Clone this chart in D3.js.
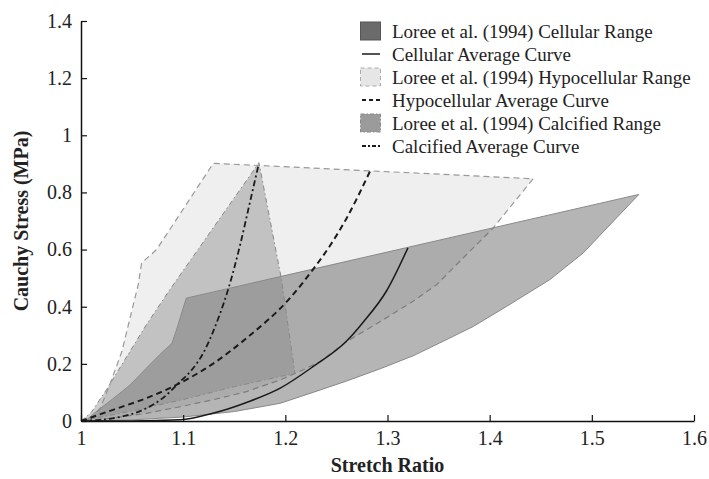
<!DOCTYPE html>
<html><head><meta charset="utf-8">
<script src="https://cdn.jsdelivr.net/npm/d3@7"></script>
<style>body{margin:0;background:#fff}svg{display:block}</style>
</head><body><svg id="chart" width="709" height="479"></svg>
<script>
// ---- data ----
const xTicks = [1, 1.1, 1.2, 1.3, 1.4, 1.5, 1.6];
const xTickLabels = ["1", "1.1", "1.2", "1.3", "1.4", "1.5", "1.6"];
const yTicks = [0, 0.2, 0.4, 0.6, 0.8, 1.0, 1.2, 1.4];
const yTickLabels = ["0", "0.2", "0.4", "0.6", "0.8", "1", "1.2", "1.4"];

const seriesNames = [
  "Loree et al. (1994) Cellular Range",
  "Cellular Average Curve",
  "Loree et al. (1994) Hypocellular Range",
  "Hypocellular Average Curve",
  "Loree et al. (1994) Calcified Range",
  "Calcified Average Curve"
];

// Range boundaries (closed polygons)
const cellularRangeX = [1.0, 1.0055, 1.015, 1.032, 1.048, 1.064, 1.077, 1.089, 1.094, 1.097, 1.103, 1.546, 1.4915, 1.459, 1.4165, 1.384, 1.351, 1.325, 1.293, 1.26, 1.227, 1.195, 1.15, 1.1, 1.05, 1.0];
const cellularRangeY = [0.0, 0.004, 0.033, 0.08, 0.126, 0.185, 0.232, 0.272, 0.325, 0.36, 0.43, 0.793, 0.588, 0.495, 0.401, 0.331, 0.273, 0.228, 0.183, 0.14, 0.10, 0.062, 0.033, 0.014, 0.004, 0.0];

const hypoRangeX = [1.0, 1.009, 1.019, 1.028, 1.04, 1.048, 1.056, 1.0593, 1.074, 1.1295, 1.4426, 1.4035, 1.375, 1.348, 1.325, 1.293, 1.26, 1.234, 1.214, 1.195, 1.162, 1.129, 1.097, 1.064, 1.031, 1.0];
const hypoRangeY = [0.0, 0.004, 0.045, 0.126, 0.243, 0.361, 0.477, 0.553, 0.60, 0.902, 0.848, 0.676, 0.574, 0.477, 0.419, 0.348, 0.278, 0.208, 0.173, 0.144, 0.103, 0.074, 0.05, 0.027, 0.01, 0.0];

const calcRangeX = [1.0, 1.01, 1.025, 1.043, 1.064, 1.087, 1.1742, 1.196, 1.2094, 1.15, 1.1, 1.05, 1.0];
const calcRangeY = [0.0, 0.03, 0.11, 0.215, 0.337, 0.46, 0.904, 0.50, 0.167, 0.12, 0.075, 0.035, 0.0];

// Average curves
const cellularAvgX = [1.0, 1.05, 1.097, 1.129, 1.162, 1.195, 1.227, 1.26, 1.276, 1.299, 1.32];
const cellularAvgY = [0.0, 0.0, 0.004, 0.027, 0.065, 0.115, 0.19, 0.28, 0.345, 0.455, 0.606];

const hypoAvgX = [1.0, 1.032, 1.064, 1.097, 1.129, 1.162, 1.2045, 1.227, 1.244, 1.26, 1.283];
const hypoAvgY = [0.0, 0.04, 0.08, 0.133, 0.2, 0.29, 0.43, 0.53, 0.615, 0.71, 0.875];

const calcAvgX = [1.0, 1.032, 1.064, 1.08, 1.097, 1.107, 1.12, 1.129, 1.136, 1.144, 1.156, 1.165, 1.174];
const calcAvgY = [0.0, 0.01, 0.045, 0.08, 0.138, 0.173, 0.24, 0.31, 0.375, 0.46, 0.62, 0.76, 0.90];

// ---- chart ----
const svg = d3.select("#chart");
const x = d3.scaleLinear().domain([1, 1.6]).range([81, 694]);
const y = d3.scaleLinear().domain([0, 1.4]).range([421, 21]);
const serif = "'Liberation Serif', 'Times New Roman', serif";

const zip = (xs, ys) => xs.map((v, i) => [v, ys[i]]);
const poly = d3.line().x(d => x(d[0])).y(d => y(d[1])).curve(d3.curveLinearClosed);
const smooth = d3.line().x(d => x(d[0])).y(d => y(d[1])).curve(d3.curveMonotoneX);

const plot = svg.append("g");

// Hypocellular range
plot.append("path").attr("d", poly(zip(hypoRangeX, hypoRangeY)))
  .attr("fill", "#dcdcdc").attr("fill-opacity", 0.45)
  .attr("stroke", "#999").attr("stroke-width", 1.2).attr("stroke-dasharray", "6,4");
// Cellular range
plot.append("path").attr("d", poly(zip(cellularRangeX, cellularRangeY)))
  .attr("fill", "#5a5a5a").attr("fill-opacity", 0.45)
  .attr("stroke", "#888").attr("stroke-width", 1);
// Calcified range
plot.append("path").attr("d", poly(zip(calcRangeX, calcRangeY)))
  .attr("fill", "#8c8c8c").attr("fill-opacity", 0.45)
  .attr("stroke", "#888").attr("stroke-width", 1).attr("stroke-dasharray", "5,3,1.5,3");

// Average curves
plot.append("path").attr("d", smooth(zip(cellularAvgX, cellularAvgY)))
  .attr("fill", "none").attr("stroke", "#1a1a1a").attr("stroke-width", 1.5);
plot.append("path").attr("d", smooth(zip(hypoAvgX, hypoAvgY)))
  .attr("fill", "none").attr("stroke", "#1a1a1a").attr("stroke-width", 2).attr("stroke-dasharray", "6,4");
plot.append("path").attr("d", smooth(zip(calcAvgX, calcAvgY)))
  .attr("fill", "none").attr("stroke", "#1a1a1a").attr("stroke-width", 1.8).attr("stroke-dasharray", "6,3,2,3");

// Axes
const xAxis = d3.axisBottom(x).tickValues(xTicks)
  .tickFormat((d, i) => xTickLabels[i]).tickSizeInner(-6).tickSizeOuter(0).tickPadding(10);
const yAxis = d3.axisLeft(y).tickValues(yTicks)
  .tickFormat((d, i) => yTickLabels[i]).tickSizeInner(-6).tickSizeOuter(0).tickPadding(9);

const gx = svg.append("g").attr("transform", "translate(0,421)").call(xAxis);
const gy = svg.append("g").attr("transform", "translate(81,0)").call(yAxis);
[gx, gy].forEach(g => {
  g.select(".domain").attr("stroke", "#111").attr("stroke-width", 1.5);
  g.selectAll(".tick line").attr("stroke", "#111").attr("stroke-width", 1.2);
  g.selectAll(".tick text").attr("font-family", serif).attr("font-size", 20).attr("fill", "#222");
});

// Axis titles
svg.append("text").attr("x", 387.5).attr("y", 472).attr("text-anchor", "middle")
  .attr("font-family", serif).attr("font-size", 20).attr("font-weight", "bold").attr("fill", "#222")
  .text("Stretch Ratio");
svg.append("text").attr("transform", "translate(28,221) rotate(-90)").attr("text-anchor", "middle")
  .attr("font-family", serif).attr("font-size", 20).attr("font-weight", "bold").attr("fill", "#222")
  .text("Cauchy Stress (MPa)");

// Legend
const legend = svg.append("g");
const rowY = i => 31 + i * 23;
const legendStyles = [
  {type: "patch", fill: "#6b6b6b", stroke: "#555", dash: null},
  {type: "line", dash: null, w: 1.5},
  {type: "patch", fill: "#e6e6e6", stroke: "#aaa", dash: "4,3"},
  {type: "line", dash: "4,3", w: 2},
  {type: "patch", fill: "#9b9b9b", stroke: "#888", dash: "4,2,1.5,2"},
  {type: "line", dash: "4,2,2,2", w: 1.8}
];
seriesNames.forEach((name, i) => {
  const s = legendStyles[i];
  const cy = rowY(i);
  if (s.type === "patch") {
    legend.append("rect").attr("x", 360.5).attr("y", cy - 9).attr("width", 20).attr("height", 18)
      .attr("fill", s.fill).attr("stroke", s.stroke).attr("stroke-width", 1)
      .attr("stroke-dasharray", s.dash);
  } else {
    legend.append("line").attr("x1", 362).attr("x2", 380).attr("y1", cy).attr("y2", cy)
      .attr("stroke", "#1a1a1a").attr("stroke-width", s.w).attr("stroke-dasharray", s.dash);
  }
  legend.append("text").attr("x", 392).attr("y", cy).attr("dy", "0.35em")
    .attr("font-family", serif).attr("font-size", 19).attr("fill", "#222").text(name);
});
</script>
</body></html>
